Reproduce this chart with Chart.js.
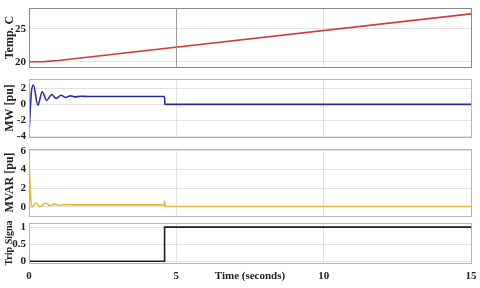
<!DOCTYPE html>
<html>
<head>
<meta charset="utf-8">
<script src="https://cdn.jsdelivr.net/npm/chart.js@4.4.0/dist/chart.umd.min.js"></script>
<style>
  body { margin: 0; background: #fff; }
  #wrap { position: relative; width: 480px; height: 288px; overflow: hidden; }
  .panel { position: absolute; left: 0; width: 480px; }
  #xTitle { position: absolute; left: 211px; top: 269px; width: 78px; text-align: center;
            font: bold 11px "Liberation Serif", "Times New Roman", serif; color: #222; }
</style>
</head>
<body>
<div id="wrap">
  <div class="panel" style="top:0px;height:72px"><canvas id="cTemp"></canvas></div>
  <div class="panel" style="top:72px;height:72px"><canvas id="cMw"></canvas></div>
  <div class="panel" style="top:144px;height:76px"><canvas id="cMvar"></canvas></div>
  <div class="panel" style="top:220px;height:68px"><canvas id="cTrip"></canvas></div>
  <div id="xTitle">Time (seconds)</div>
</div>
<script>
// values
var timeTicks = [0, 5, 10, 15];

var tempTime  = [0, 0.5, 1, 15];
var tempValue = [20, 20.02, 20.2, 27.3];
var tempTicks = [20, 25];

var mwTime  = [0, 0.03, 0.08, 0.15, 0.3, 0.45, 0.6, 0.77, 0.92, 1.09, 1.24, 1.4, 1.55, 1.75, 2.0, 4.6, 4.61, 15];
var mwValue = [-3.7, -1.5, 1.5, 2.45, -0.1, 1.6, 0.5, 1.25, 0.75, 1.15, 0.88, 1.08, 0.95, 1.02, 1.0, 1.0, 0, 0];
var mwTicks = [-4, -2, 0, 2];

var mvarTime  = [0, 0.04, 0.09, 0.24, 0.37, 0.57, 0.71, 0.86, 1.05, 1.22, 1.5, 4.59, 4.6, 4.62, 15];
var mvarValue = [5.4, 2, -0.05, 0.4, 0.0, 0.4, 0.1, 0.28, 0.15, 0.22, 0.2, 0.2, 0.6, 0.02, 0.02];
var mvarTicks = [0, 2, 4, 6];

var tripTime  = [0, 4.6, 4.601, 15];
var tripValue = [0, 0, 1, 1];
var tripTicks = [0, 0.5, 1];

var serif = '"Liberation Serif", "Times New Roman", serif';

function toPoints(xs, ys) {
    var pts = [];
    for (var i = 0; i < xs.length; i++) pts.push({x: xs[i], y: ys[i]});
    return pts;
}

// box round the plot area, plus the darker line at t=5 on the top panel
var boxPlugin = {
    id: 'box',
    afterDraw: function(chart, args, opts) {
        var a = chart.chartArea, ctx = chart.ctx;
        ctx.save();
        ctx.lineWidth = 1;
        if (opts.markX !== undefined) {
            var px = Math.round(chart.scales.x.getPixelForValue(opts.markX)) + 0.5;
            ctx.strokeStyle = '#9a9a9a';
            ctx.beginPath();
            ctx.moveTo(px, a.top);
            ctx.lineTo(px, a.bottom);
            ctx.stroke();
        }
        ctx.strokeStyle = opts.color || '#999';
        ctx.strokeRect(Math.round(a.left) + 0.5, Math.round(a.top) + 0.5,
                       Math.round(a.right - a.left), Math.round(a.bottom - a.top));
        ctx.restore();
    }
};

function makePanel(id, cfg) {
    var ctx = document.getElementById(id);
    return new Chart(ctx, {
        type: 'line',
        data: {
            datasets: [{
                data: toPoints(cfg.xs, cfg.ys),
                borderColor: cfg.color,
                borderWidth: 1.6,
                pointRadius: 0,
                fill: false,
                cubicInterpolationMode: cfg.smooth ? 'monotone' : 'default',
                tension: 0
            }]
        },
        options: {
            responsive: true,
            maintainAspectRatio: false,
            animation: false,
            layout: { padding: { top: cfg.padTop, bottom: cfg.padBottom, left: 3, right: 9 } },
            plugins: {
                legend: { display: false },
                tooltip: { enabled: false },
                box: { color: cfg.boxColor, markX: cfg.markX }
            },
            scales: {
                x: {
                    type: 'linear',
                    min: 0, max: 15,
                    afterBuildTicks: function(s) { s.ticks = timeTicks.map(function(v) { return {value: v}; }); },
                    afterFit: function(s) {
                        s.height = cfg.showX ? 25 : 0;
                        s.paddingLeft = 0; s.paddingRight = 0;
                    },
                    grid: { color: '#e2e2e2', drawTicks: false },
                    border: { display: false },
                    ticks: {
                        display: cfg.showX,
                        autoSkip: false,
                        padding: 7,
                        maxRotation: 0,
                        color: '#222',
                        font: { family: serif, weight: 'bold', size: 11 }
                    }
                },
                y: {
                    min: cfg.min, max: cfg.max,
                    afterBuildTicks: function(s) { s.ticks = cfg.ticks.map(function(v) { return {value: v}; }); },
                    afterFit: function(s) {
                        s.width = 26;
                        s.paddingTop = 0; s.paddingBottom = 0;
                    },
                    grid: { color: '#e2e2e2', drawTicks: false },
                    border: { display: false },
                    ticks: {
                        autoSkip: false,
                        padding: 3,
                        color: '#222',
                        font: { family: serif, weight: 'bold', size: 11 },
                        callback: function(v) { return String(v); }
                    },
                    title: {
                        display: true,
                        text: cfg.title,
                        color: '#222',
                        padding: { top: 0, bottom: 0 },
                        font: { family: serif, weight: 'bold', size: cfg.titleSize }
                    }
                }
            }
        },
        plugins: [boxPlugin]
    });
}

makePanel('cTemp', { xs: tempTime, ys: tempValue, color: '#d23b3b', min: 19.2, max: 28.2, ticks: tempTicks,
    title: 'Temp. C', titleSize: 12, padTop: 8, padBottom: 5, showX: false, markX: 5, boxColor: '#8a8a8a' });

makePanel('cMw', { xs: mwTime, ys: mwValue, color: '#2a2f9e', min: -4.1, max: 3.2, ticks: mwTicks, smooth: true,
    title: 'MW [pu]', titleSize: 12, padTop: 7, padBottom: 7, showX: false, boxColor: '#b5b5b5' });

makePanel('cMvar', { xs: mvarTime, ys: mvarValue, color: '#e3b93c', min: -1, max: 6.2, ticks: mvarTicks, smooth: true,
    title: 'MVAR [pu]', titleSize: 12, padTop: 5, padBottom: 4, showX: false, boxColor: '#b5b5b5' });

makePanel('cTrip', { xs: tripTime, ys: tripValue, color: '#1e1e1e', min: -0.05, max: 1.12, ticks: tripTicks,
    title: 'Trip Signa', titleSize: 10, padTop: 3, padBottom: 0, showX: true, boxColor: '#b5b5b5' });
</script>
</body>
</html>
